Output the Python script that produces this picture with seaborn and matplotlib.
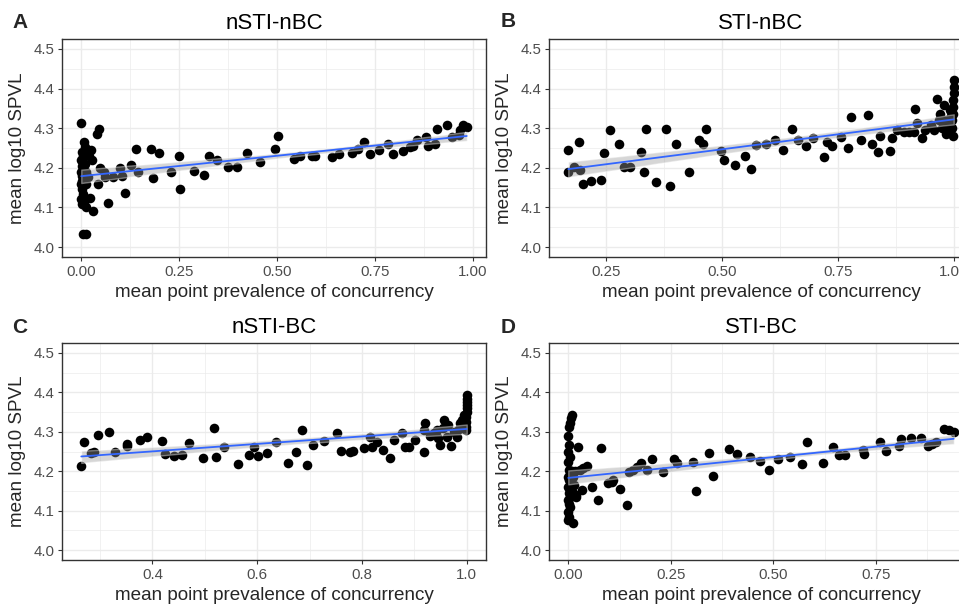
import numpy as np
import pandas as pd
import seaborn as sns
import matplotlib
matplotlib.use("Agg")
import matplotlib.pyplot as plt
from matplotlib.ticker import MultipleLocator

# panel titles and letters
panel_titles = ["nSTI-nBC", "STI-nBC", "nSTI-BC", "STI-BC"]
panel_letters = ["A", "B", "C", "D"]

# panel A : nSTI-nBC
a_x = [0.000, 0.005, 0.012, 0.007, 0.009, 0.003, 0.000, 0.004, 0.002, 0.000,
       0.003, 0.001, 0.000, 0.002, 0.004, 0.000, 0.001, 0.011, 0.006, 0.005,
       0.009, 0.013, 0.015, 0.020, 0.024, 0.028, 0.022, 0.030, 0.018, 0.012,
       0.039, 0.045, 0.042, 0.049, 0.058, 0.060, 0.068, 0.082, 0.099, 0.105,
       0.111, 0.128, 0.144, 0.139, 0.177, 0.183, 0.198, 0.228, 0.249, 0.253,
       0.287, 0.314, 0.325, 0.347, 0.374, 0.398, 0.423, 0.455, 0.494, 0.501,
       0.542, 0.559, 0.589, 0.597, 0.640, 0.657, 0.690, 0.707, 0.722, 0.736,
       0.761, 0.782, 0.797, 0.821, 0.838, 0.846, 0.856, 0.879, 0.884, 0.903,
       0.909, 0.933, 0.946, 0.963, 0.967, 0.975, 0.984]
a_y = [4.313, 4.034, 4.034, 4.265, 4.253, 4.240, 4.219, 4.230, 4.205, 4.190,
       4.180, 4.168, 4.158, 4.146, 4.135, 4.122, 4.108, 4.100, 4.115, 4.195,
       4.210, 4.190, 4.245, 4.230, 4.246, 4.219, 4.123, 4.092, 4.176, 4.160,
       4.286, 4.297, 4.158, 4.200, 4.190, 4.176, 4.110, 4.176, 4.200, 4.180,
       4.137, 4.208, 4.190, 4.247, 4.247, 4.174, 4.237, 4.190, 4.230, 4.147,
       4.191, 4.183, 4.230, 4.219, 4.202, 4.202, 4.237, 4.214, 4.247, 4.280,
       4.222, 4.229, 4.230, 4.229, 4.227, 4.236, 4.237, 4.247, 4.264, 4.234,
       4.244, 4.261, 4.234, 4.242, 4.253, 4.256, 4.269, 4.278, 4.254, 4.259,
       4.298, 4.308, 4.278, 4.282, 4.295, 4.309, 4.303]

# panel B : STI-nBC
b_x = [0.169, 0.169, 0.181, 0.192, 0.195, 0.201, 0.217, 0.239, 0.247, 0.260,
       0.278, 0.290, 0.303, 0.325, 0.332, 0.336, 0.358, 0.379, 0.389, 0.401,
       0.429, 0.450, 0.460, 0.466, 0.499, 0.504, 0.529, 0.550, 0.562, 0.573,
       0.596, 0.614, 0.632, 0.652, 0.664, 0.682, 0.697, 0.720, 0.726, 0.738,
       0.756, 0.771, 0.779, 0.800, 0.815, 0.824, 0.836, 0.842, 0.862, 0.867,
       0.878, 0.892, 0.903, 0.915, 0.917, 0.921, 0.932, 0.939, 0.950, 0.957,
       0.964, 0.968, 0.971, 0.978, 0.984, 0.986, 0.991, 0.993, 0.996, 0.997,
       0.998, 0.999, 0.999, 1.000, 1.000, 1.000, 0.998, 0.995, 0.990, 0.980,
       0.975]
b_y = [4.246, 4.189, 4.202, 4.265, 4.195, 4.158, 4.166, 4.170, 4.237, 4.295,
       4.259, 4.202, 4.202, 4.240, 4.189, 4.298, 4.163, 4.298, 4.155, 4.259,
       4.189, 4.271, 4.261, 4.298, 4.242, 4.219, 4.208, 4.229, 4.198, 4.258,
       4.261, 4.269, 4.244, 4.297, 4.271, 4.254, 4.276, 4.227, 4.265, 4.254,
       4.278, 4.250, 4.329, 4.269, 4.333, 4.259, 4.240, 4.280, 4.242, 4.274,
       4.295, 4.291, 4.291, 4.291, 4.349, 4.314, 4.274, 4.295, 4.308, 4.295,
       4.373, 4.320, 4.337, 4.358, 4.285, 4.312, 4.346, 4.325, 4.300, 4.320,
       4.337, 4.354, 4.371, 4.388, 4.405, 4.422, 4.280, 4.330, 4.300, 4.320,
       4.300]

# panel C : nSTI-BC
c_x = [0.264, 0.269, 0.282, 0.288, 0.295, 0.316, 0.329, 0.351, 0.352, 0.376,
       0.390, 0.418, 0.423, 0.441, 0.456, 0.469, 0.496, 0.517, 0.522, 0.537,
       0.563, 0.584, 0.593, 0.601, 0.619, 0.635, 0.659, 0.674, 0.686, 0.695,
       0.707, 0.727, 0.752, 0.759, 0.777, 0.783, 0.803, 0.815, 0.819, 0.828,
       0.840, 0.853, 0.862, 0.877, 0.883, 0.889, 0.902, 0.918, 0.919, 0.921,
       0.937, 0.943, 0.949, 0.956, 0.962, 0.970, 0.975, 0.982, 0.985, 0.988,
       0.991, 0.995, 0.998, 0.998, 0.999, 0.999, 1.000, 1.000, 1.000, 1.000,
       1.000, 1.000, 0.945, 0.955, 0.965, 0.930]
c_y = [4.213, 4.274, 4.245, 4.249, 4.291, 4.300, 4.249, 4.264, 4.269, 4.280,
       4.287, 4.277, 4.243, 4.238, 4.241, 4.272, 4.234, 4.310, 4.236, 4.262,
       4.219, 4.241, 4.262, 4.238, 4.247, 4.274, 4.220, 4.248, 4.304, 4.215,
       4.267, 4.277, 4.296, 4.252, 4.248, 4.252, 4.259, 4.287, 4.262, 4.274,
       4.255, 4.234, 4.279, 4.296, 4.262, 4.262, 4.280, 4.304, 4.248, 4.323,
       4.296, 4.304, 4.266, 4.329, 4.287, 4.264, 4.300, 4.287, 4.308, 4.321,
       4.329, 4.342, 4.304, 4.313, 4.325, 4.338, 4.350, 4.359, 4.367, 4.376,
       4.384, 4.393, 4.285, 4.310, 4.318, 4.290]

# panel D : STI-BC
d_x = [0.008, 0.006, 0.004, 0.001, 0.000, 0.002, 0.000, 0.003, 0.000, 0.001,
       0.004, 0.000, 0.002, 0.006, 0.000, 0.003, 0.001, 0.005, 0.000, 0.002,
       0.004, 0.000, 0.002, 0.000, 0.011, 0.009, 0.012, 0.010, 0.014, 0.016,
       0.018, 0.024, 0.029, 0.037, 0.045, 0.033, 0.020, 0.057, 0.073, 0.081,
       0.098, 0.106, 0.110, 0.126, 0.143, 0.149, 0.159, 0.167, 0.177, 0.192,
       0.205, 0.232, 0.258, 0.265, 0.303, 0.312, 0.342, 0.353, 0.391, 0.412,
       0.444, 0.467, 0.489, 0.511, 0.540, 0.571, 0.583, 0.622, 0.646, 0.660,
       0.674, 0.719, 0.720, 0.760, 0.774, 0.807, 0.811, 0.837, 0.861, 0.878,
       0.888, 0.896, 0.917, 0.929, 0.940]
d_y = [4.342, 4.334, 4.321, 4.313, 4.289, 4.266, 4.249, 4.236, 4.224, 4.203,
       4.194, 4.186, 4.177, 4.169, 4.160, 4.152, 4.144, 4.135, 4.127, 4.118,
       4.110, 4.097, 4.084, 4.076, 4.068, 4.200, 4.185, 4.150, 4.165, 4.200,
       4.140, 4.262, 4.203, 4.207, 4.213, 4.152, 4.135, 4.159, 4.128, 4.258,
       4.171, 4.173, 4.179, 4.154, 4.114, 4.198, 4.204, 4.211, 4.220, 4.203,
       4.231, 4.198, 4.231, 4.220, 4.223, 4.150, 4.247, 4.189, 4.257, 4.243,
       4.235, 4.226, 4.204, 4.231, 4.235, 4.218, 4.274, 4.220, 4.262, 4.240,
       4.240, 4.255, 4.243, 4.274, 4.252, 4.264, 4.282, 4.285, 4.285, 4.264,
       4.268, 4.274, 4.307, 4.304, 4.300]

panels = [(a_x, a_y, 0.25), (b_x, b_y, 0.25), (c_x, c_y, 0.2), (d_x, d_y, 0.25)]

sns.set_style("white")
plt.rcParams["font.family"] = ["Liberation Sans", "DejaVu Sans"]

W, H = 959, 609
fig = plt.figure(figsize=(W / 100, H / 100), dpi=100)

# axes boxes in pixels: left, top, width, height
boxes = [(62, 39, 424, 218), (549, 39, 424, 218),
         (62, 343, 424, 217), (549, 343, 424, 217)]
letter_pos = [(12, 28), (501, 27), (12, 333), (501, 333)]

for i, (xs, ys, step) in enumerate(panels):
    l, t, w, h = boxes[i]
    ax = fig.add_axes([l / W, 1 - (t + h) / H, w / W, h / H])
    df = pd.DataFrame({"x": xs, "y": ys})

    sns.scatterplot(data=df, x="x", y="y", ax=ax, color="black", s=48,
                    linewidth=0, zorder=3)
    sns.regplot(data=df, x="x", y="y", ax=ax, scatter=False, ci=95, seed=0,
                color="#3366FF", line_kws={"linewidth": 1.3, "zorder": 5})
    # ggplot-like grey confidence band
    band = ax.collections[-1]
    band.set_facecolor((0.6, 0.6, 0.6))
    band.set_alpha(0.4)
    band.set_zorder(4)

    lo, hi = min(xs), max(xs)
    pad = 0.05 * (hi - lo)
    ax.set_xlim(lo - pad, hi + pad)
    ax.set_ylim(4.0 - 0.025, 4.5 + 0.025)

    ax.xaxis.set_major_locator(MultipleLocator(step))
    ax.xaxis.set_minor_locator(MultipleLocator(step / 2))
    ax.yaxis.set_major_locator(MultipleLocator(0.1))
    ax.yaxis.set_minor_locator(MultipleLocator(0.05))
    if step == 0.25:
        ax.xaxis.set_major_formatter(plt.FormatStrFormatter("%.2f"))
    else:
        ax.xaxis.set_major_formatter(plt.FormatStrFormatter("%.1f"))
    ax.yaxis.set_major_formatter(plt.FormatStrFormatter("%.1f"))

    ax.grid(which="major", color="#EBEBEB", linewidth=1.0, zorder=0)
    ax.grid(which="minor", color="#EBEBEB", linewidth=0.5, zorder=0)
    ax.set_axisbelow(True)
    for sp in ax.spines.values():
        sp.set_color("#333333")
        sp.set_linewidth(1.0)

    ax.tick_params(which="major", length=3, width=0.8, color="#333333",
                   labelsize=10.8, labelcolor="#4D4D4D", pad=2.5,
                   bottom=True, left=True)
    ax.tick_params(which="minor", length=0)

    ax.set_title(panel_titles[i], fontsize=16, pad=7, color="black")
    ax.set_xlabel("mean point prevalence of concurrency", fontsize=13.6,
                  labelpad=4)
    ax.set_ylabel("mean log10 SPVL", fontsize=13.6, labelpad=5)

    fig.text(letter_pos[i][0] / W, 1 - letter_pos[i][1] / H, panel_letters[i],
             fontsize=15, fontweight="bold", ha="left", va="baseline")

fig.savefig("out.png", dpi=100)
